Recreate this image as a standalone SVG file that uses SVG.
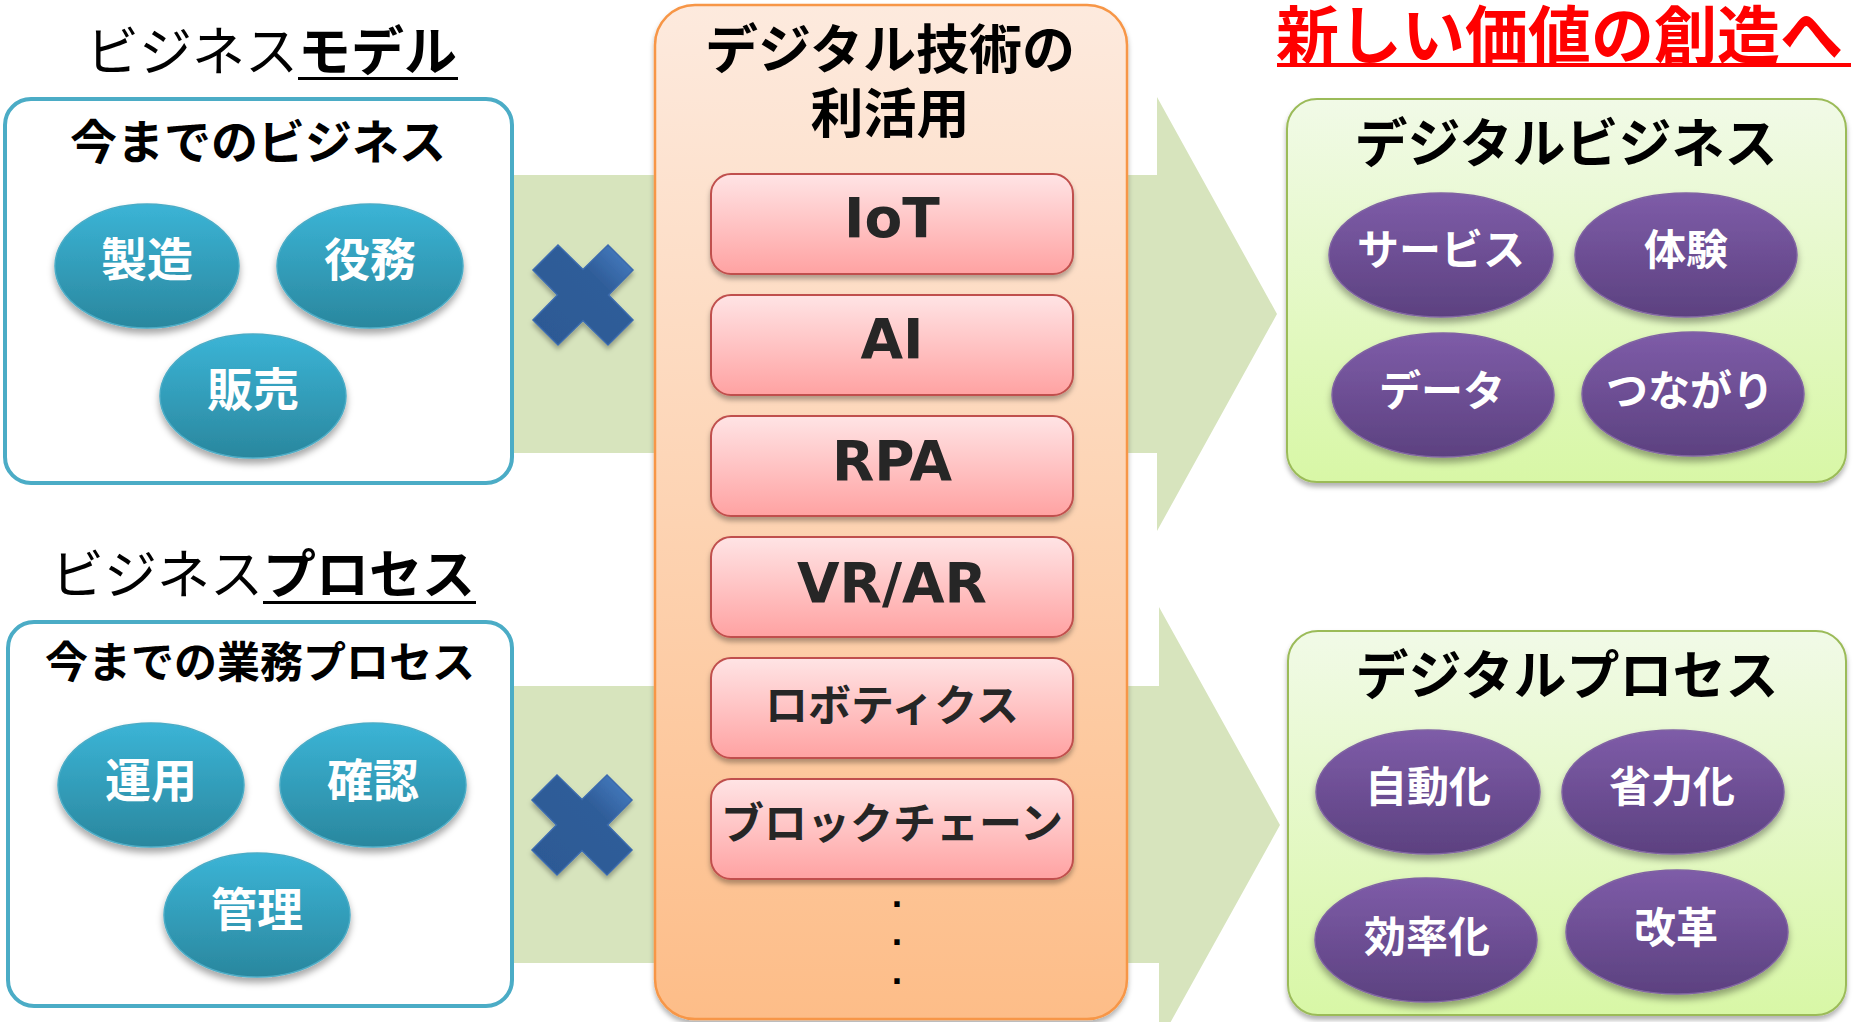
<svg xmlns="http://www.w3.org/2000/svg" width="1864" height="1022" viewBox="0 0 1864 1022">
<defs>
<linearGradient id="gTeal" x1="0" y1="0" x2="0" y2="1"><stop offset="0" stop-color="#3BB4D6"/><stop offset="1" stop-color="#2A879E"/></linearGradient>
<linearGradient id="gPurple" x1="0" y1="0" x2="0" y2="1"><stop offset="0" stop-color="#7E5CA8"/><stop offset="1" stop-color="#5C4180"/></linearGradient>
<linearGradient id="gOrange" x1="0" y1="0" x2="0" y2="1"><stop offset="0" stop-color="#FDEADE"/><stop offset="1" stop-color="#FDBD88"/></linearGradient>
<linearGradient id="gPink" x1="0" y1="0" x2="0" y2="1"><stop offset="0" stop-color="#FFE4E5"/><stop offset="1" stop-color="#FFA2A2"/></linearGradient>
<linearGradient id="gGreen" x1="0" y1="0" x2="0" y2="1"><stop offset="0" stop-color="#F1FAE7"/><stop offset="1" stop-color="#D8F7A6"/></linearGradient>
<linearGradient id="gCross" x1="0" y1="1" x2="1" y2="0"><stop offset="0" stop-color="#2C5994"/><stop offset="0.65" stop-color="#2F5D99"/><stop offset="1" stop-color="#4A82C8"/></linearGradient>
<filter id="sh" x="-20%" y="-20%" width="140%" height="150%"><feDropShadow dx="0" dy="5" stdDeviation="3.5" flood-color="#000" flood-opacity="0.35"/></filter>
<filter id="shs" x="-20%" y="-20%" width="140%" height="150%"><feDropShadow dx="0" dy="4" stdDeviation="2.5" flood-color="#000" flood-opacity="0.3"/></filter>
<polygon id="cross" points="0,-25.5 25,-50 50,-25 25.5,0 50,25 25,50 0,25.5 -25,50 -50,25 -25.5,0 -50,-25 -25,-50"/>
</defs>
<style>
text{font-family:'Noto Sans CJK JP','Noto Sans CJK SC',sans-serif}
.b{font-weight:700}
.n{font-weight:400}
.mid{text-anchor:middle}
.bl{fill:#000}
.wt{fill:#fff;font-weight:700;text-anchor:middle}
.lat{font-family:'DejaVu Sans',Verdana,sans-serif;font-weight:700;fill:#262626;text-anchor:middle;font-size:55px}
.jpbox{font-weight:700;fill:#262626;text-anchor:middle;font-size:43px}
.dot{font-family:'DejaVu Sans',Verdana,sans-serif;font-weight:700;fill:#000;text-anchor:middle;font-size:30px}
.teal{fill:url(#gTeal);stroke:#4BACC6;stroke-width:1.5;filter:url(#sh)}
.purp{fill:url(#gPurple);stroke:#8064A2;stroke-width:1.5;filter:url(#sh)}
.pink{fill:url(#gPink);stroke:#C0504D;stroke-width:2;filter:url(#shs)}
.ul{stroke:#000;stroke-width:3}
.arrow{fill:#D7E4BD}
</style>
<rect width="1864" height="1022" fill="#fff"/>

<g id="connectors">
<polygon class="arrow" points="480,175 1157,175 1157,97 1277,314 1157,531 1157,453 480,453"/>
<polygon class="arrow" points="480,686 1159,686 1159,607 1280,825 1159,1043 1159,963 480,963"/>
</g>

<g id="title-model">
<text x="86" y="71" font-size="53" class="bl"><tspan class="n">ビジネス</tspan><tspan class="b">モデル</tspan></text>
<line class="ul" x1="298" y1="78.5" x2="458" y2="78.5"/>
</g>

<g id="box-business">
<rect x="5" y="99" width="507" height="384" rx="26" fill="#fff" stroke="#4BACC6" stroke-width="4"/>
<text x="258" y="159" font-size="47" class="b mid bl">今までのビジネス</text>
</g>
<g id="node-seizo"><ellipse class="teal" cx="147" cy="266" rx="92" ry="62"/><text x="147" y="276" font-size="46" class="wt">製造</text></g>
<g id="node-ekimu"><ellipse class="teal" cx="370" cy="266" rx="93" ry="62"/><text x="370" y="276" font-size="46" class="wt">役務</text></g>
<g id="node-hanbai"><ellipse class="teal" cx="253" cy="396" rx="93" ry="62"/><text x="253" y="406" font-size="46" class="wt">販売</text></g>

<g id="title-process">
<text x="51" y="594" font-size="53" class="bl"><tspan class="n">ビジネス</tspan><tspan class="b">プロセス</tspan></text>
<line class="ul" x1="263" y1="602.5" x2="476" y2="602.5"/>
</g>

<g id="box-process">
<rect x="8" y="622" width="504" height="384" rx="26" fill="#fff" stroke="#4BACC6" stroke-width="4"/>
<text x="260" y="678" font-size="43" class="b mid bl">今までの業務プロセス</text>
</g>
<g id="node-unyo"><ellipse class="teal" cx="151" cy="785" rx="93" ry="62"/><text x="151" y="797" font-size="46" class="wt">運用</text></g>
<g id="node-kakunin"><ellipse class="teal" cx="373" cy="785" rx="93" ry="62"/><text x="373" y="797" font-size="46" class="wt">確認</text></g>
<g id="node-kanri"><ellipse class="teal" cx="257" cy="915" rx="93" ry="62"/><text x="257" y="926" font-size="46" class="wt">管理</text></g>

<g id="cross-1"><use href="#cross" x="583" y="295" fill="url(#gCross)" stroke="#3A6AAE" stroke-width="1.5" filter="url(#shs)"/></g>
<g id="cross-2"><use href="#cross" x="582" y="825" fill="url(#gCross)" stroke="#3A6AAE" stroke-width="1.5" filter="url(#shs)"/></g>

<g id="digital-tech">
<rect x="655" y="5" width="472" height="1014" rx="40" fill="url(#gOrange)" stroke="#F79646" stroke-width="2.5" filter="url(#shs)"/>
<text x="890" y="69" font-size="53" class="b mid bl"><tspan x="890" y="69">デジタル技術の</tspan><tspan x="890" y="133">利活用</tspan></text>
<text x="897" y="907" class="dot">.</text>
<text x="897" y="945" class="dot">.</text>
<text x="897" y="984" class="dot">.</text>
</g>
<g id="tech-iot"><rect class="pink" x="711" y="174" width="362" height="100" rx="20"/><text x="892" y="237" class="lat">IoT</text></g>
<g id="tech-ai"><rect class="pink" x="711" y="295" width="362" height="100" rx="20"/><text x="892" y="358" class="lat">AI</text></g>
<g id="tech-rpa"><rect class="pink" x="711" y="416" width="362" height="100" rx="20"/><text x="892" y="480" class="lat">RPA</text></g>
<g id="tech-vrar"><rect class="pink" x="711" y="537" width="362" height="100" rx="20"/><text x="892" y="602" class="lat">VR/AR</text></g>
<g id="tech-robotics"><rect class="pink" x="711" y="658" width="362" height="100" rx="20"/><text x="892" y="721" class="jpbox">ロボティクス</text></g>
<g id="tech-blockchain"><rect class="pink" x="711" y="779" width="362" height="100" rx="20"/><text x="892" y="839" class="jpbox">ブロックチェーン</text></g>

<g id="title-new-value">
<text x="1276" y="58" font-size="63" class="b" fill="#FF0000">新しい価値の創造へ</text>
<line x1="1277" y1="65" x2="1851" y2="65" stroke="#FF0000" stroke-width="4"/>
</g>

<g id="box-digital-business">
<rect x="1287" y="99" width="559" height="383" rx="30" fill="url(#gGreen)" stroke="#9BBB59" stroke-width="2" filter="url(#shs)"/>
<text x="1566" y="163" font-size="53" class="b mid bl">デジタルビジネス</text>
</g>
<g id="node-service"><ellipse class="purp" cx="1441" cy="255" rx="112" ry="62"/><text x="1441" y="265" font-size="42" class="wt">サービス</text></g>
<g id="node-taiken"><ellipse class="purp" cx="1686" cy="255" rx="111" ry="62"/><text x="1686" y="265" font-size="42" class="wt">体験</text></g>
<g id="node-data"><ellipse class="purp" cx="1443" cy="395" rx="111" ry="62"/><text x="1442" y="406" font-size="42" class="wt">データ</text></g>
<g id="node-tsunagari"><ellipse class="purp" cx="1693" cy="394" rx="111" ry="62"/><text x="1690" y="406" font-size="42" class="wt">つながり</text></g>

<g id="box-digital-process">
<rect x="1288" y="631" width="558" height="384" rx="30" fill="url(#gGreen)" stroke="#9BBB59" stroke-width="2" filter="url(#shs)"/>
<text x="1567" y="695" font-size="53" class="b mid bl">デジタルプロセス</text>
</g>
<g id="node-jidoka"><ellipse class="purp" cx="1428" cy="792" rx="112" ry="62"/><text x="1428" y="802" font-size="42" class="wt">自動化</text></g>
<g id="node-shoryokuka"><ellipse class="purp" cx="1673" cy="792" rx="111" ry="62"/><text x="1672" y="802" font-size="42" class="wt">省力化</text></g>
<g id="node-koritsuka"><ellipse class="purp" cx="1426" cy="940" rx="111" ry="62"/><text x="1427" y="952" font-size="42" class="wt">効率化</text></g>
<g id="node-kaikaku"><ellipse class="purp" cx="1677" cy="932" rx="111" ry="62"/><text x="1676" y="943" font-size="42" class="wt">改革</text></g>
</svg>
